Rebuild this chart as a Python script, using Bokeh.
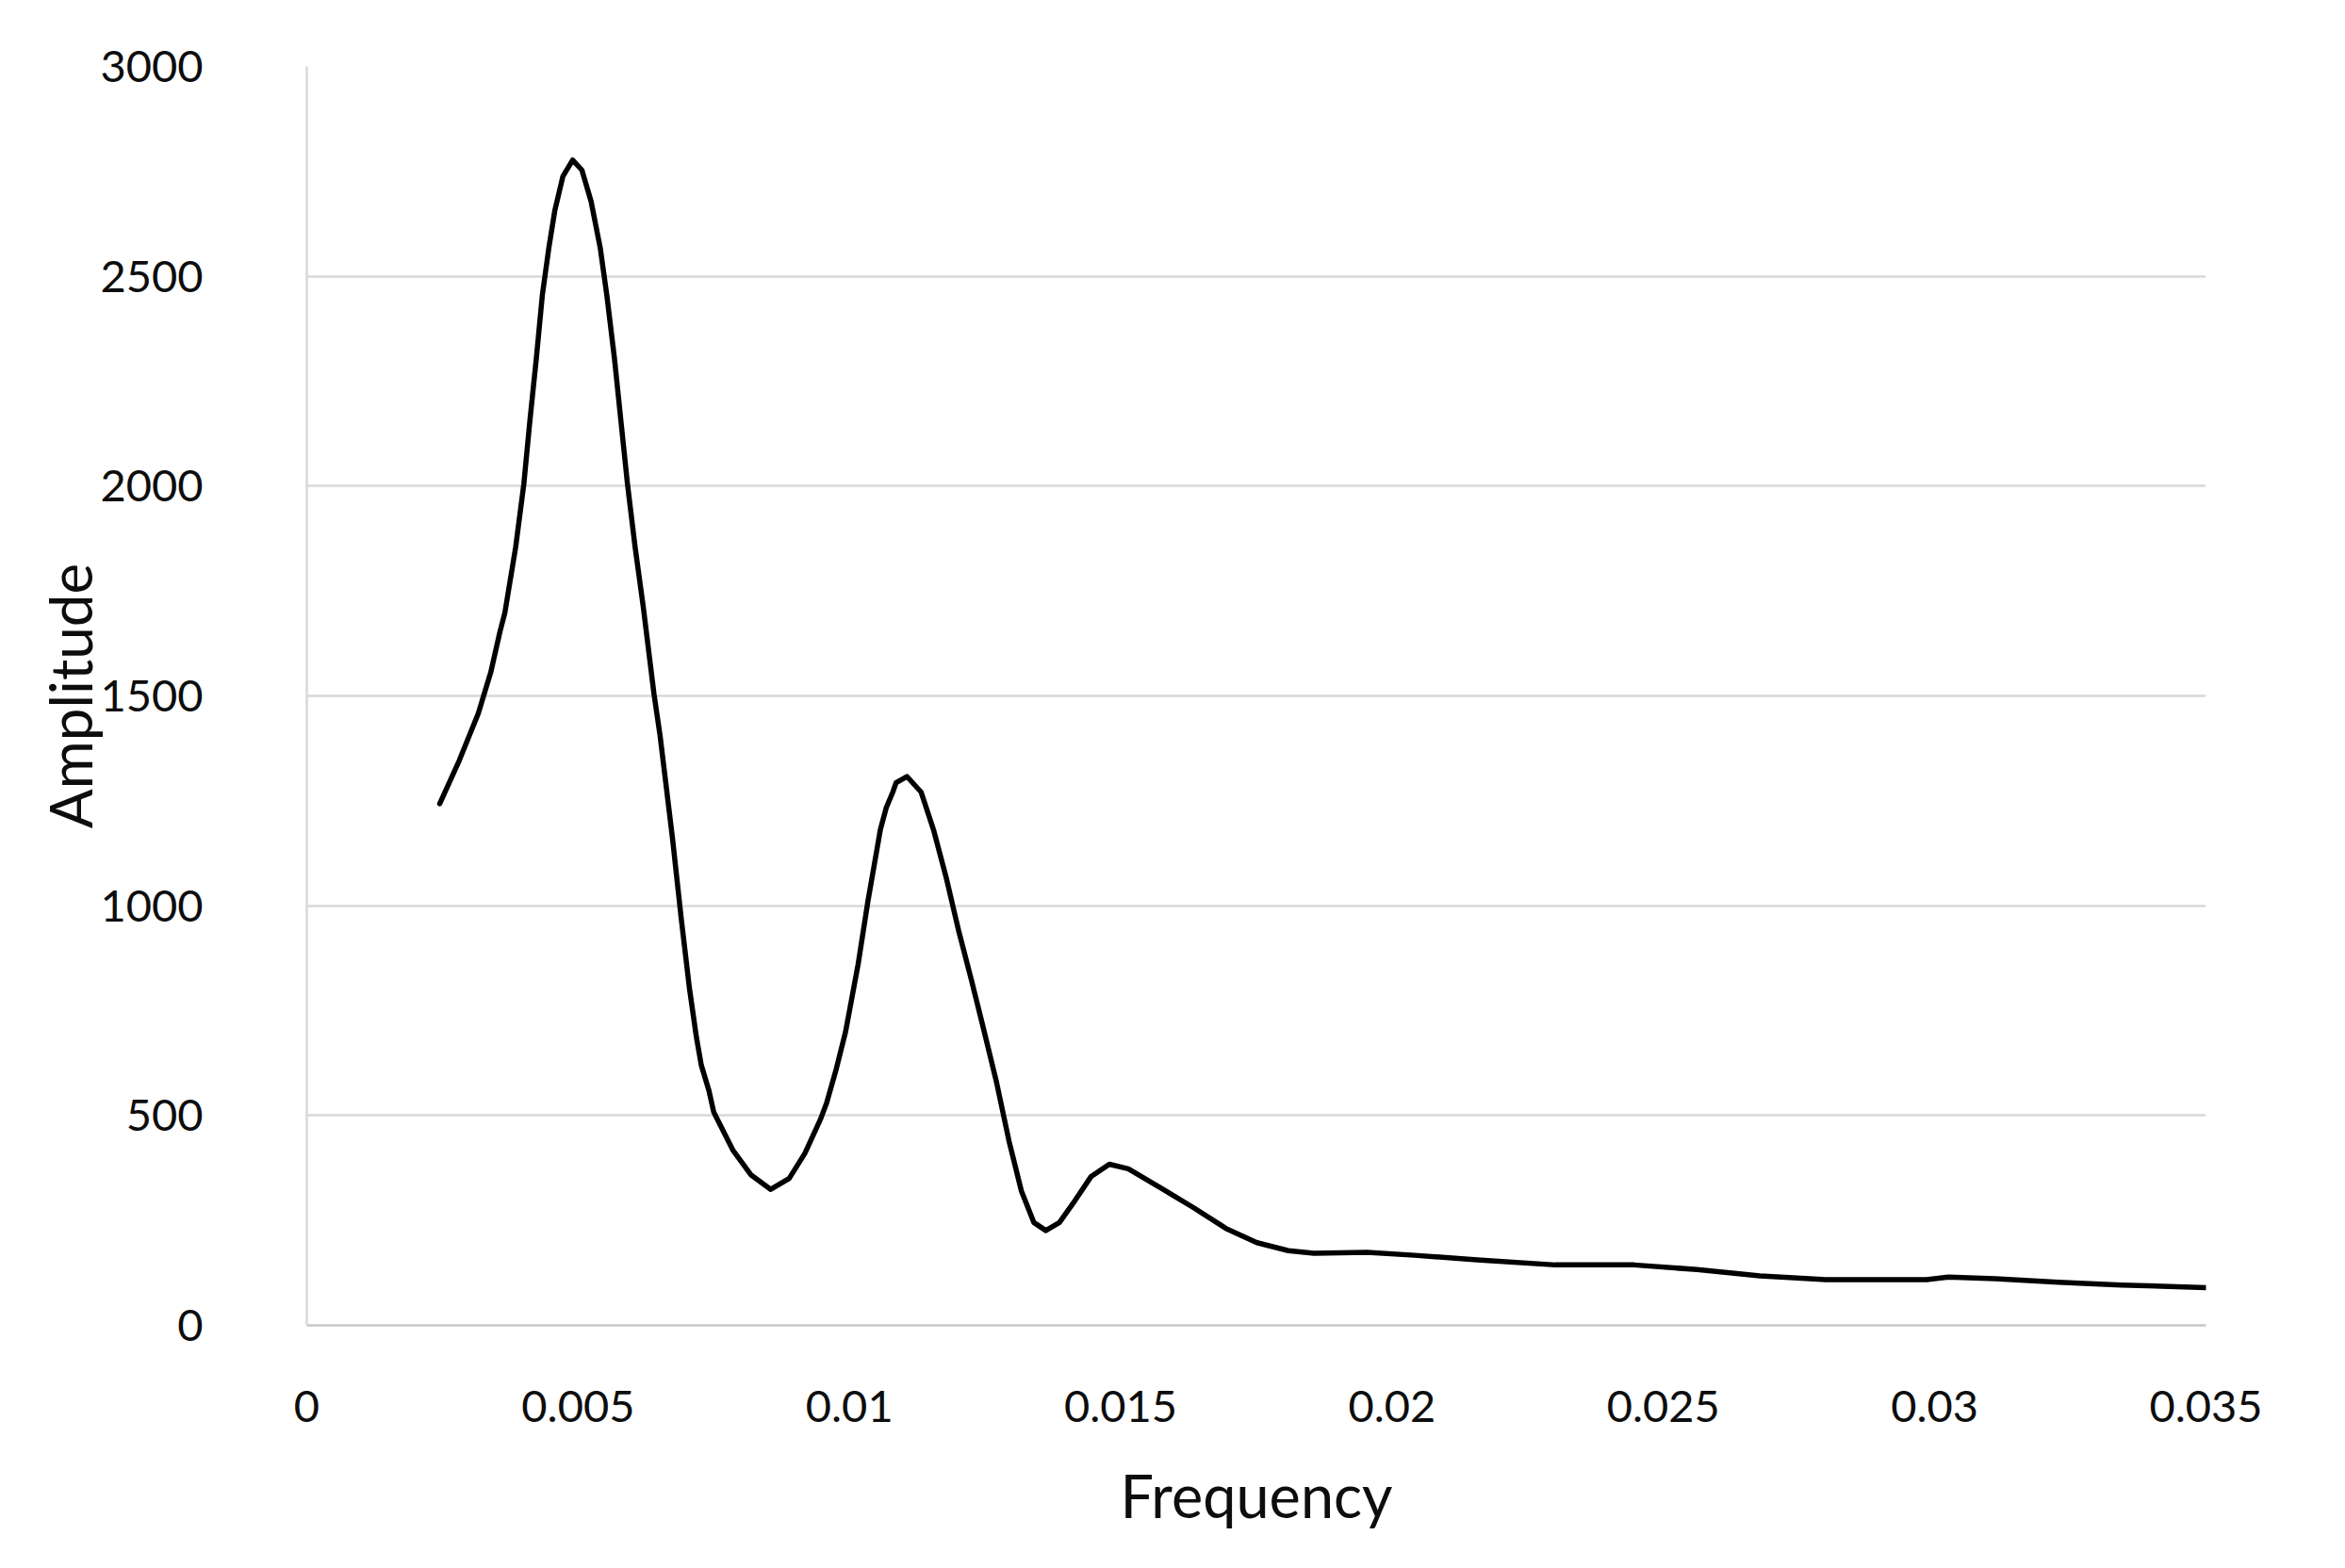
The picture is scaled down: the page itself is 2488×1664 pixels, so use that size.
from bokeh.plotting import figure
from bokeh.models import FixedTicker, Range1d
from bokeh.embed import file_html
from bokeh.resources import INLINE

# ---- data ----
frequency = [0.00245, 0.00281, 0.00316, 0.00339, 0.00356, 0.00365, 0.00385, 0.00400,
             0.00411, 0.00423, 0.00434, 0.00446, 0.00457, 0.00472, 0.00490, 0.00507,
             0.00524, 0.00541, 0.00553, 0.00567, 0.00579, 0.00591, 0.00605, 0.00620,
             0.00640, 0.00651, 0.00674, 0.00690, 0.00705, 0.00718, 0.00727, 0.00741,
             0.00750, 0.00785, 0.00819, 0.00855, 0.00889, 0.00918, 0.00947, 0.00958,
             0.00976, 0.00993, 0.01016, 0.01034, 0.01051, 0.01057, 0.01068, 0.01080,
             0.01086, 0.01106, 0.01132, 0.01155, 0.01178, 0.01201, 0.01225, 0.01245,
             0.01271, 0.01294, 0.01317, 0.01340, 0.01362, 0.01387, 0.01416, 0.01445,
             0.01479, 0.01514, 0.01578, 0.01636, 0.01694, 0.01751, 0.01809, 0.01856,
             0.01954, 0.02041, 0.02157, 0.02301, 0.02446, 0.02562, 0.02678, 0.02770,
             0.02799, 0.02985, 0.03025, 0.03112, 0.03228, 0.03344, 0.03500]
amplitude = [1243, 1346, 1458, 1556, 1653, 1698, 1855, 2005,
             2154, 2304, 2454, 2567, 2656, 2738, 2777, 2753,
             2678, 2566, 2454, 2304, 2154, 2005, 1855, 1713,
             1503, 1406, 1160, 970, 805, 687, 620, 560,
             508, 418, 358, 324, 350, 410, 492, 530,
             612, 700, 860, 1010, 1136, 1181, 1234, 1271,
             1293, 1308, 1271, 1181, 1069, 942, 822, 718,
             580, 440, 320, 245, 226, 245, 298, 354,
             384, 373, 324, 279, 231, 197, 178, 172,
             174, 167, 156, 144, 144, 133, 118, 111,
             109, 109, 115, 111, 103, 96, 90]

x_ticks = [0, 0.005, 0.01, 0.015, 0.02, 0.025, 0.03, 0.035]
x_tick_labels = ["0", "0.005", "0.01", "0.015", "0.02", "0.025", "0.03", "0.035"]
y_ticks = [0, 500, 1000, 1500, 2000, 2500, 3000]

FONT = "Lato"
GRID = "#d9d9d9"

p = figure(width=2470, height=1645, output_backend="svg", toolbar_location=None,
           x_range=Range1d(0, 0.035), y_range=Range1d(0, 3000),
           min_border_left=325, min_border_right=130,
           min_border_top=70, min_border_bottom=239)
p.outline_line_color = None
p.background_fill_color = "white"
p.border_fill_color = "white"

p.line(frequency, amplitude, line_color="black", line_width=5.5,
       line_join="round", line_cap="round")

# axes
p.xaxis.ticker = FixedTicker(ticks=x_ticks)
p.yaxis.ticker = FixedTicker(ticks=y_ticks)
p.xaxis.major_label_overrides = {t: s for t, s in zip(x_ticks, x_tick_labels)}
for ax in (p.xaxis[0], p.yaxis[0]):
    ax.major_tick_line_color = None
    ax.minor_tick_line_color = None
    ax.major_label_text_font = FONT
    ax.major_label_text_font_size = "47px"
    ax.major_label_text_color = "#0d0d0d"
    ax.axis_label_text_font = FONT
    ax.axis_label_text_font_style = "normal"
    ax.axis_label_text_color = "#0d0d0d"
    ax.axis_line_color = GRID
    ax.axis_line_width = 2.5

p.xaxis.axis_label = "Frequency"
p.yaxis.axis_label = "Amplitude"
p.xaxis.axis_label_text_font_size = "63px"
p.yaxis.axis_label_text_font_size = "62px"
p.xaxis.major_label_standoff = 63
p.yaxis.major_label_standoff = 104
p.xaxis.axis_label_standoff = 37
p.yaxis.axis_label_standoff = -8
p.xaxis.axis_line_color = "#c8c8c8"

p.xgrid.grid_line_color = None
p.ygrid.grid_line_color = GRID
p.ygrid.grid_line_width = 2.5

open("out.html", "w").write(file_html(p, INLINE))
